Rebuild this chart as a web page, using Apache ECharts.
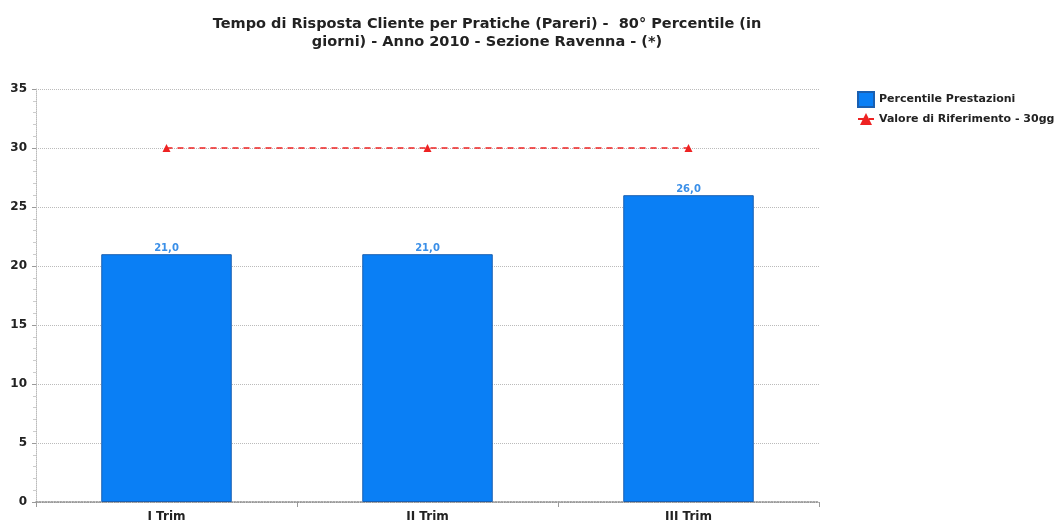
<!DOCTYPE html>
<html>
<head>
<meta charset="utf-8">
<script src="https://cdn.jsdelivr.net/npm/echarts@6/dist/echarts.min.js"></script>
<style>
  html, body { margin: 0; padding: 0; background: #fff; }
  #chart { width: 1062px; height: 523px; }
</style>
</head>
<body>
<div id="chart"></div>
<script>
// Quarterly 80th-percentile response times (days) and the 30-day reference
const categories = ['I Trim', 'II Trim', 'III Trim'];
const percentileValues = [21, 21, 26];
const referenceValues = [30, 30, 30];
const yTicks = { min: 0, max: 35, interval: 5 };

const chart = echarts.init(document.getElementById('chart'));
const fontFamily = 'DejaVu Sans, Verdana, sans-serif';

chart.setOption({
  animation: false,
  backgroundColor: '#ffffff',
  title: {
    text: 'Tempo di Risposta Cliente per Pratiche (Pareri) -  80° Percentile (in\ngiorni) - Anno 2010 - Sezione Ravenna - (*)',
    left: 482,
    top: 10,
    textAlign: 'center',
    textStyle: { fontFamily, fontSize: 14.5, fontWeight: 'bold', color: '#222', lineHeight: 18 }
  },
  legend: {
    orient: 'vertical',
    left: 852,
    top: 86,
    itemGap: 5,
    itemWidth: 16,
    itemHeight: 15,
    textStyle: { fontFamily, fontSize: 11, fontWeight: 'bold', color: '#222' },
    data: [
      { name: 'Percentile Prestazioni', icon: 'rect' },
      { name: 'Valore di Riferimento - 30gg', itemStyle: { borderWidth: 0 } }
    ]
  },
  grid: { left: 36, right: 243, top: 89, bottom: 20, containLabel: false },
  xAxis: {
    type: 'category',
    data: categories,
    axisLine: { lineStyle: { color: '#888', type: 'dotted', width: 1.5 } },
    axisTick: { show: true, length: 5, lineStyle: { color: '#999' } },
    axisLabel: { fontFamily, fontSize: 12, fontWeight: 'bold', color: '#222', margin: 9 },
    splitLine: { show: false }
  },
  yAxis: {
    type: 'value',
    min: yTicks.min,
    max: yTicks.max,
    interval: yTicks.interval,
    axisLine: { show: true, lineStyle: { color: '#bbb', type: 'dotted' } },
    axisTick: { show: true, length: 4, lineStyle: { color: '#999' } },
    minorTick: { show: true, splitNumber: 5, length: 3, lineStyle: { color: '#ccc' } },
    axisLabel: { fontFamily, fontSize: 12, fontWeight: 'bold', color: '#222', margin: 9 },
    splitLine: { show: true, lineStyle: { color: '#bbb', type: 'dotted' } }
  },
  series: [
    {
      name: 'Percentile Prestazioni',
      type: 'bar',
      data: percentileValues,
      barWidth: '50%',
      itemStyle: { color: '#0a7ff5', borderColor: '#1a5fb0', borderWidth: 1 },
      label: {
        show: true,
        position: 'top',
        distance: 1,
        fontFamily,
        fontSize: 10,
        fontWeight: 'bold',
        color: '#3a8fe8',
        formatter: p => p.value.toFixed(1).replace('.', ',')
      },
      z: 2
    },
    {
      name: 'Valore di Riferimento - 30gg',
      type: 'line',
      data: referenceValues,
      symbol: 'triangle',
      symbolSize: 8,
      lineStyle: { color: '#ee2222', type: [6, 5], width: 1.5 },
      itemStyle: { color: '#ee2222' },
      z: 3
    }
  ]
});
</script>
</body>
</html>
